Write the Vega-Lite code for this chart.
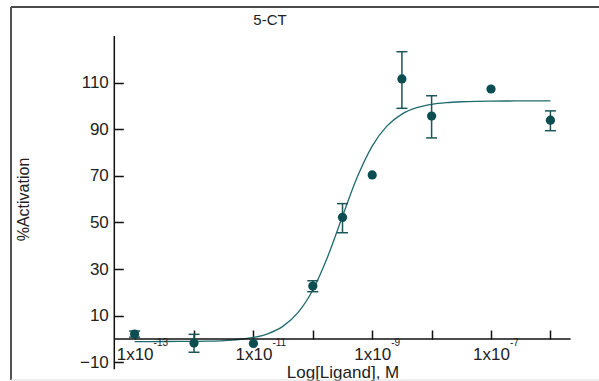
{
  "$schema": "https://vega.github.io/schema/vega-lite/v6.json",
  "width": 588,
  "height": 373,
  "autosize": {"type": "none"},
  "padding": {"left": 11, "top": 7, "right": 0, "bottom": 1},
  "background": "white",
  "config": {
    "view": {"stroke": null},
    "font": "Liberation Sans"
  },
  "title": {
    "text": "5-CT",
    "fontSize": 15,
    "fontWeight": "normal",
    "font": "Liberation Sans",
    "color": "#222222",
    "anchor": "middle",
    "dx": -35,
    "dy": 16,
    "offset": -18,
    "baseline": "alphabetic"
  },
  "datasets": {
    "points": [
      {"logc": -13, "act": 2.1, "lo": 0.8, "hi": 3.4},
      {"logc": -12, "act": -1.7, "lo": -5.7, "hi": 2.0},
      {"logc": -11, "act": -1.9, "lo": null, "hi": null},
      {"logc": -10, "act": 22.7, "lo": 20.3, "hi": 25.0},
      {"logc": -9.5, "act": 52.2, "lo": 45.6, "hi": 58.1},
      {"logc": -9, "act": 70.4, "lo": null, "hi": null},
      {"logc": -8.5, "act": 111.6, "lo": 99.0, "hi": 123.3},
      {"logc": -8, "act": 95.7, "lo": 86.3, "hi": 104.4},
      {"logc": -7, "act": 107.3, "lo": null, "hi": null},
      {"logc": -6, "act": 93.9, "lo": 89.4, "hi": 97.9}
    ],
    "curve": [
      {"logc": -13, "act": -1.09},
      {"logc": -12.75, "act": -1.09},
      {"logc": -12.5, "act": -1.07},
      {"logc": -12.25, "act": -1.04},
      {"logc": -12, "act": -0.99},
      {"logc": -11.75, "act": -0.88},
      {"logc": -11.5, "act": -0.66},
      {"logc": -11.25, "act": -0.22},
      {"logc": -11, "act": 0.65},
      {"logc": -10.75, "act": 2.33},
      {"logc": -10.5, "act": 5.53},
      {"logc": -10.25, "act": 11.33},
      {"logc": -10, "act": 21.05},
      {"logc": -9.75, "act": 35.31},
      {"logc": -9.5, "act": 52.69},
      {"logc": -9.25, "act": 69.59},
      {"logc": -9, "act": 82.8},
      {"logc": -8.75, "act": 91.47},
      {"logc": -8.5, "act": 96.53},
      {"logc": -8.25, "act": 99.28},
      {"logc": -8, "act": 100.71},
      {"logc": -7.75, "act": 101.45},
      {"logc": -7.5, "act": 101.82},
      {"logc": -7.25, "act": 102.01},
      {"logc": -7, "act": 102.1},
      {"logc": -6.75, "act": 102.15},
      {"logc": -6.5, "act": 102.17},
      {"logc": -6.25, "act": 102.19},
      {"logc": -6, "act": 102.19}
    ],
    "exps": [
      {"logc": -13, "exp": "-13"},
      {"logc": -11, "exp": "-11"},
      {"logc": -9, "exp": "-9"},
      {"logc": -7, "exp": "-7"}
    ]
  },
  "layer": [
    {
      "data": {"name": "curve"},
      "mark": {"type": "line", "interpolate": "monotone", "color": "#1f6a6d", "strokeWidth": 1.3},
      "encoding": {
        "x": {
          "field": "logc",
          "type": "quantitative",
          "scale": {"domain": [-15.081, -5.182], "nice": false, "zero": false},
          "axis": {
            "title": "Log[Ligand], M",
            "values": [-13, -12, -11, -10, -9, -8, -7, -6],
            "labelExpr": "datum.value % 2 != 0 ? '1x10' : ''",
            "domain": false,
            "grid": false,
            "offset": -41,
            "tickSize": -9,
            "tickColor": "#111111",
            "tickWidth": 1.5,
            "labelFontSize": 17,
            "labelFont": "Liberation Sans",
            "labelColor": "#222222",
            "labelPadding": 16,
            "labelFlush": false,
            "labelOverlap": false,
            "titleFontSize": 17,
            "titleFont": "Liberation Sans",
            "titleFontWeight": "normal",
            "titleColor": "#222222",
            "titleX": 331.5,
            "titleY": 38,
            "titleBaseline": "alphabetic",
            "titleAlign": "center"
          }
        },
        "y": {
          "field": "act",
          "type": "quantitative",
          "scale": {"domain": [-17.6, 142.49], "nice": false, "zero": false},
          "axis": {
            "title": "%Activation",
            "values": [-10, 0, 10, 20, 30, 40, 50, 60, 70, 80, 90, 100, 110, 120],
            "labelExpr": "(datum.value + 10) % 20 == 0 ? datum.label : ''",
            "domain": false,
            "grid": false,
            "offset": -103.3,
            "tickSize": -9,
            "tickColor": "#111111",
            "tickWidth": 1.5,
            "labelFontSize": 17,
            "labelFont": "Liberation Sans",
            "labelColor": "#222222",
            "labelPadding": 15,
            "labelOverlap": false,
            "labelFlush": false,
            "titleFontSize": 16,
            "titleFont": "Liberation Sans",
            "titleFontWeight": "normal",
            "titleColor": "#222222",
            "titleX": -86,
            "titleY": 192,
            "titleBaseline": "alphabetic",
            "titleAlign": "center"
          }
        }
      }
    },
    {
      "data": {"values": [{}]},
      "mark": {"type": "rule", "color": "#4a4a4a", "strokeWidth": 2},
      "encoding": {
        "x": {"datum": -15.081, "type": "quantitative"},
        "x2": {"datum": -5.182},
        "y": {"datum": 142.49, "type": "quantitative"}
      }
    },
    {
      "data": {"values": [{}]},
      "mark": {"type": "rule", "color": "#555555", "strokeWidth": 2},
      "encoding": {
        "x": {"datum": -15.081, "type": "quantitative"},
        "y": {"datum": -17.6, "type": "quantitative"},
        "y2": {"datum": 142.49}
      }
    },
    {
      "data": {"values": [{}]},
      "mark": {"type": "rule", "color": "#dddddd", "strokeWidth": 1},
      "encoding": {
        "x": {"datum": -15.081, "type": "quantitative"},
        "x2": {"datum": -5.182},
        "y": {"datum": -17.6, "type": "quantitative"}
      }
    },
    {
      "data": {"values": [{}]},
      "mark": {"type": "rule", "color": "#111111", "strokeWidth": 1.5},
      "encoding": {
        "x": {"datum": -13.342, "type": "quantitative"},
        "y": {"datum": -13, "type": "quantitative"},
        "y2": {"datum": 130}
      }
    },
    {
      "data": {"values": [{}]},
      "mark": {"type": "rule", "color": "#111111", "strokeWidth": 1.5},
      "encoding": {
        "x": {"datum": -13.342, "type": "quantitative"},
        "x2": {"datum": -5.66},
        "y": {"datum": 0, "type": "quantitative"}
      }
    },
    {
      "data": {"name": "points"},
      "mark": {"type": "rule", "color": "#1c5658", "strokeWidth": 1.5},
      "encoding": {
        "x": {"field": "logc", "type": "quantitative"},
        "y": {"field": "lo", "type": "quantitative"},
        "y2": {"field": "hi"}
      }
    },
    {
      "data": {"name": "points"},
      "mark": {"type": "tick", "orient": "horizontal", "size": 11, "thickness": 1.5, "color": "#1c5658", "opacity": 1},
      "encoding": {
        "x": {"field": "logc", "type": "quantitative"},
        "y": {"field": "lo", "type": "quantitative"}
      }
    },
    {
      "data": {"name": "points"},
      "mark": {"type": "tick", "orient": "horizontal", "size": 11, "thickness": 1.5, "color": "#1c5658", "opacity": 1},
      "encoding": {
        "x": {"field": "logc", "type": "quantitative"},
        "y": {"field": "hi", "type": "quantitative"}
      }
    },
    {
      "data": {"name": "points"},
      "mark": {"type": "circle", "color": "#0b4d50", "size": 85, "opacity": 1},
      "encoding": {
        "x": {"field": "logc", "type": "quantitative"},
        "y": {"field": "act", "type": "quantitative"}
      }
    },
    {
      "data": {"name": "exps"},
      "mark": {"type": "text", "align": "left", "baseline": "alphabetic", "dx": 19, "dy": 7, "fontSize": 10, "font": "Liberation Sans", "color": "#222222"},
      "encoding": {
        "x": {"field": "logc", "type": "quantitative"},
        "y": {"datum": 0, "type": "quantitative"},
        "text": {"field": "exp"}
      }
    }
  ]
}
